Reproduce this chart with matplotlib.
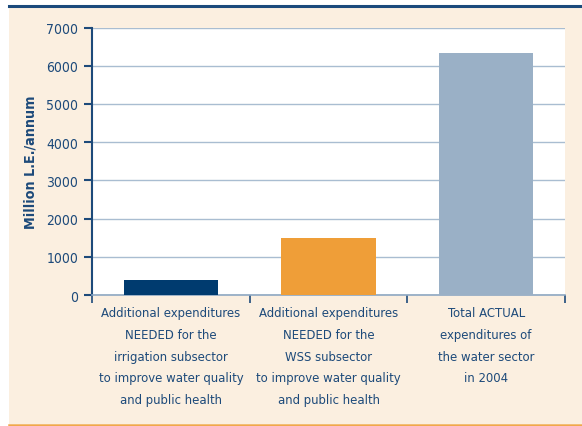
import matplotlib.pyplot as plt
from matplotlib.patches import Rectangle
from matplotlib.lines import Line2D

categories = [
    "Additional expenditures\nNEEDED for the\nirrigation subsector\nto improve water quality\nand public health",
    "Additional expenditures\nNEEDED for the\nWSS subsector\nto improve water quality\nand public health",
    "Total ACTUAL\nexpenditures of\nthe water sector\nin 2004",
]
values = [390, 1485, 6345]
bar_colors = ["#003b6f", "#ef9e38", "#9ab0c6"]
yticks = [0, 1000, 2000, 3000, 4000, 5000, 6000, 7000]

navy = "#1d4a7a"
plt.rcParams["font.family"] = ["DejaVu Sans"]
plt.rcParams["font.stretch"] = "condensed"

fig = plt.figure(figsize=(5.82, 4.27), dpi=100)
fig.patch.set_facecolor("white")

# cream panel with top and bottom rules
fig.patches.append(Rectangle((9 / 582, 2 / 427), 1 - 9 / 582, 1 - 10 / 427,
                             transform=fig.transFigure, facecolor="#fbefe0",
                             edgecolor="none", zorder=-5))
fig.lines.append(Line2D([9 / 582, 1], [1 - 7 / 427] * 2, transform=fig.transFigure,
                        color="#1b4a7c", lw=2.2, zorder=-4))
fig.lines.append(Line2D([9 / 582, 1], [1 - 425.5 / 427] * 2, transform=fig.transFigure,
                        color="#f0a84a", lw=1.8, zorder=-4))

ax = fig.add_axes([92 / 582, 1 - 296 / 427, 473 / 582, 267.5 / 427])
ax.set_facecolor("white")

x = range(len(values))
ax.bar(x, values, width=0.6, color=bar_colors, zorder=3)

ax.set_xlim(-0.5, 2.5)
ax.set_ylim(0, 7000)
ax.set_yticks(yticks)
ax.set_yticklabels([str(v) for v in yticks], fontsize=10, color=navy)
ax.yaxis.grid(True, color="#a9bdd1", lw=1.0, zorder=1)

ax.set_xticks([-0.5, 0.5, 1.5, 2.5])
ax.set_xticklabels([])
ax.tick_params(axis="x", direction="out", length=6, width=1.2, color=navy)
ax.tick_params(axis="y", direction="out", length=6, width=1.5, color=navy, pad=4)

for i, lab in enumerate(categories):
    ax.text(i, -0.042, lab, ha="center", va="top", fontsize=9.4, color=navy,
            linespacing=1.87, transform=ax.get_xaxis_transform())

for s in ["top", "right"]:
    ax.spines[s].set_visible(False)
ax.spines["left"].set_color(navy)
ax.spines["left"].set_linewidth(1.5)
ax.spines["bottom"].set_color("#8ea8c2")
ax.spines["bottom"].set_linewidth(1.2)

ax.set_ylabel("Million L.E./annum", fontsize=10.3, fontweight="bold", color=navy,
              labelpad=6)

fig.savefig("out.png", dpi=100, facecolor=fig.get_facecolor())
